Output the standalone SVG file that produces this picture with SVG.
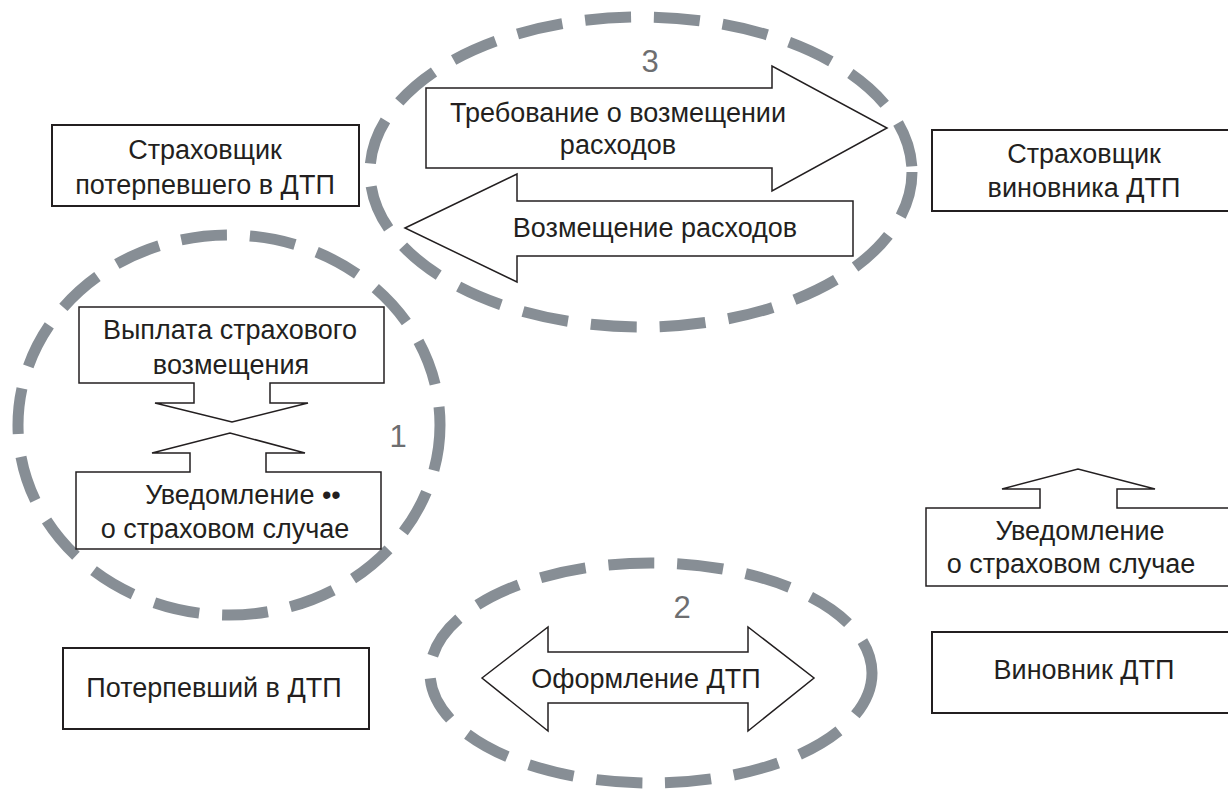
<svg xmlns="http://www.w3.org/2000/svg" width="1228" height="791" viewBox="0 0 1228 791">
<style>
.bg{fill:#ffffff}
.box{fill:#ffffff;stroke:#231f20;stroke-width:2}
.arr{fill:#ffffff;stroke:#231f20;stroke-width:1.5;stroke-linejoin:miter}
.grp{fill:none;stroke:#878e95;stroke-width:11;stroke-dasharray:46 23}
.t{font-family:"Liberation Sans","DejaVu Sans",sans-serif;font-size:27px;fill:#231f20;text-anchor:middle}
.n{font-family:"Liberation Sans","DejaVu Sans",sans-serif;font-size:31px;fill:#6d6e70;text-anchor:middle}
</style>
<rect class="bg" x="0" y="0" width="1228" height="791"/>
<g id="groups">
<ellipse class="grp" cx="641" cy="172" rx="271" ry="155"/>
<ellipse class="grp" cx="229" cy="425" rx="211" ry="190"/>
<ellipse class="grp" cx="651" cy="673" rx="221" ry="110"/>
</g>
<g id="insurer-victim">
<rect class="box" x="52" y="125" width="307" height="81"/>
<text class="t" x="205" y="159">Страховщик</text>
<text class="t" x="205" y="194">потерпевшего в ДТП</text>
</g>
<g id="insurer-culprit">
<rect class="box" x="932" y="130" width="300" height="81"/>
<text class="t" x="1084" y="163">Страховщик</text>
<text class="t" x="1084" y="197">виновника ДТП</text>
</g>
<g id="victim">
<rect class="box" x="63" y="648" width="306" height="81"/>
<text class="t" x="214" y="697">Потерпевший в ДТП</text>
</g>
<g id="culprit">
<rect class="box" x="932" y="632" width="300" height="81"/>
<text class="t" x="1084" y="679">Виновник ДТП</text>
</g>
<g id="connectors">
<g id="claim">
<path class="arr" d="M426,88 L772,88 L772,66 L887,128 L772,191 L772,168 L426,168 Z"/>
<text class="t" x="618" y="122">Требование о возмещении</text>
<text class="t" x="618" y="154">расходов</text>
</g>
<g id="reimburse">
<path class="arr" d="M405,228 L517,174 L517,201 L853,201 L853,256 L517,256 L517,282 Z"/>
<text class="t" x="655" y="237">Возмещение расходов</text>
</g>
<g id="payment">
<path class="arr" d="M79,307 L384,307 L384,383 L270,383 L270,403 L308,403 L232,422 L155,403 L194,403 L194,383 L79,383 Z"/>
<text class="t" x="230" y="339">Выплата страхового</text>
<text class="t" x="231" y="374">возмещения</text>
</g>
<g id="notice-left">
<path class="arr" d="M76,549 L76,472 L190,472 L190,453 L152,453 L230,433 L305,453 L266,453 L266,472 L381,472 L381,549 Z"/>
<text class="t" x="243" y="504">Уведомление ••</text>
<text class="t" x="225" y="538">о страховом случае</text>
</g>
<g id="notice-right">
<path class="arr" d="M1232,586 L926,586 L926,508 L1040,508 L1040,489 L1002,489 L1078,469 L1155,489 L1117,489 L1117,508 L1232,508"/>
<text class="t" x="1080" y="540">Уведомление</text>
<text class="t" x="1071" y="573">о страховом случае</text>
</g>
<g id="registration">
<path class="arr" d="M482,678 L548,627 L548,652 L748,652 L748,627 L814,678 L748,731 L748,703 L548,703 L548,731 Z"/>
<text class="t" x="646" y="688">Оформление ДТП</text>
</g>
</g>
<g id="labels">
<text class="n" x="650" y="72">3</text>
<text class="n" x="398" y="447">1</text>
<text class="n" x="682" y="618">2</text>
</g>
</svg>
